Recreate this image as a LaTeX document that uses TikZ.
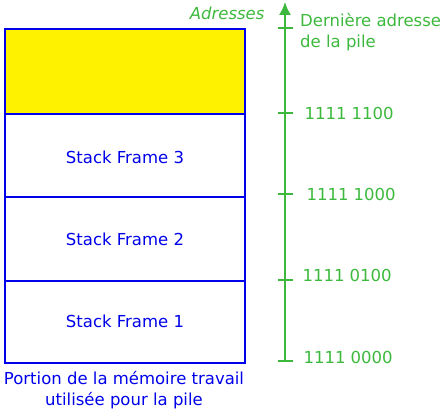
\documentclass[tikz,border=0pt]{standalone}
\usepackage{fontspec}
\setmainfont{DejaVu Sans}
\usetikzlibrary{arrows.meta,positioning}

\definecolor{pilegreen}{RGB}{60,185,60}
\definecolor{pileblue}{RGB}{0,0,235}

\tikzset{
    frame/.style={draw=pileblue, line width=1.5pt},
    framelabel/.style={text=pileblue, font=\fontsize{16.5}{20.5}\selectfont},
    addr/.style={text=pilegreen, anchor=west, font=\fontsize{16.5}{21}\selectfont},
    tick/.style={draw=pilegreen, line width=1.5pt}
}

\begin{document}
\begin{tikzpicture}[x=1pt,y=-1pt]
    \useasboundingbox (0,0) rectangle (444,411);

    % Define parameters
    \def\xl{5}
    \def\xr{245}
    \def\xa{285}

    % Stack
    \fill[yellow] (\xl,29) rectangle (\xr,114);
    \draw[frame] (\xl,29) rectangle (\xr,363);
    \foreach \y in {114,197,281}
        \draw[frame] (\xl,\y) -- (\xr,\y);

    \node[framelabel] (sf3) at (125,157) {Stack Frame 3};
    \node[framelabel] (sf2) at (125,239) {Stack Frame 2};
    \node[framelabel] (sf1) at (125,321) {Stack Frame 1};
    \node[framelabel, align=center, inner sep=0pt] (caption) at (124,390)
        {Portion de la mémoire travail\\utilisée pour la pile};

    % Axis
    \coordinate (bottom) at (\xa,362);
    \coordinate (top) at (\xa,2);
    \draw[tick, -{Latex[length=13pt,width=12pt]}] (bottom) -- (top);
    \foreach \y in {28,113,194,280,361}
        \draw[tick] (\xa-7,\y) -- (\xa+8,\y);

    \node[text=pilegreen, anchor=east, font=\fontsize{16.5}{20}\selectfont\itshape] (adresses) at (268,13) {Adresses};
    \node[addr, align=left, inner sep=0pt] (last) at (300,32) {Dernière adresse\\de la pile};
    \node[addr] (a1100) at (301,113) {1111 1100};
    \node[addr] (a1000) at (303,194) {1111 1000};
    \node[addr] (a0100) at (299,275) {1111 0100};
    \node[addr] (a0000) at (300,357) {1111 0000};
\end{tikzpicture}
\end{document}
